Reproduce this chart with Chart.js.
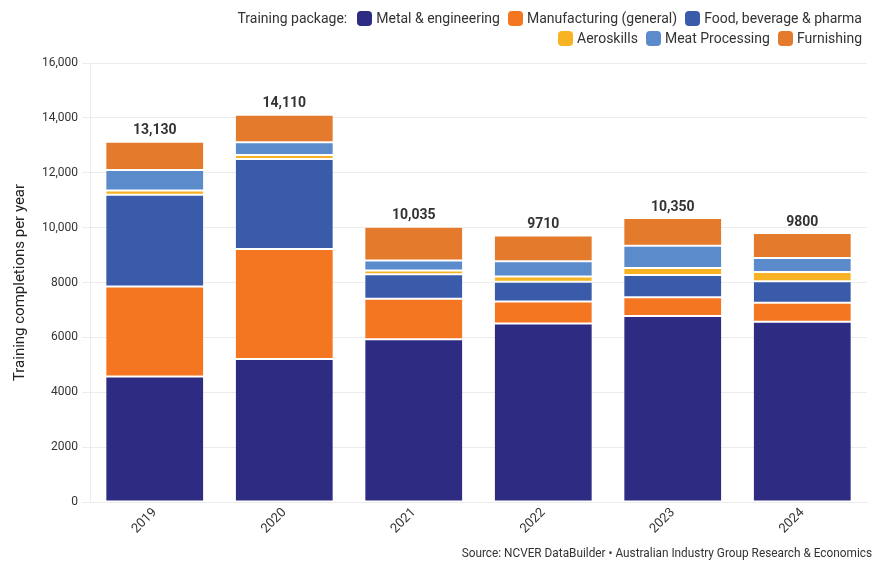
<!DOCTYPE html>
<html>
<head>
<meta charset="utf-8">
<script src="https://cdn.jsdelivr.net/npm/chart.js@4/dist/chart.umd.min.js"></script>
<style>
  html, body { margin: 0; padding: 0; background: #fff; }
  #wrap { position: relative; width: 876px; height: 563px; overflow: hidden; }
  #chart { position: absolute; left: 0; top: 0; }
  .narrow { font-family: "Roboto", sans-serif; color: #333; }
  #legend { position: absolute; right: 14px; top: 8px; font-size: 14px; line-height: 20px; text-align: right; }
  #legend .row { display: flex; justify-content: flex-end; align-items: center; }
  #legend .item { display: inline-flex; align-items: center; margin-left: 8px; }
  #legend .sw { width: 15px; height: 15px; border-radius: 4px; margin-right: 4px; display: inline-block; }
  #legend .ttl { margin-right: 2px; }
  #source { position: absolute; right: 4px; top: 544px; font-size: 13.5px; white-space: nowrap;
            transform: scaleX(0.875); transform-origin: right center; }
</style>
</head>
<body>
<div id="wrap">
  <canvas id="chart" width="876" height="563"></canvas>
  <div id="legend" class="narrow"></div>
  <div id="source" class="narrow">Source: NCVER DataBuilder • Australian Industry Group Research &amp; Economics</div>
</div>
<script>
// Training completions per year, by training package
const years = ["2019", "2020", "2021", "2022", "2023", "2024"];

const metalEngineering = [4570, 5210, 5930, 6510, 6780, 6570];
const manufacturingGeneral = [3280, 4010, 1480, 800, 680, 690];
const foodBeveragePharma = [3350, 3280, 890, 720, 810, 790];
const aeroskills = [150, 150, 140, 190, 260, 330];
const meatProcessing = [750, 460, 360, 550, 810, 510];
const furnishing = [1030, 1000, 1235, 940, 1010, 910];

const yTicks = [0, 2000, 4000, 6000, 8000, 10000, 12000, 14000, 16000];

const seriesNames = ["Metal & engineering", "Manufacturing (general)", "Food, beverage & pharma",
                     "Aeroskills", "Meat Processing", "Furnishing"];
const seriesData = [metalEngineering, manufacturingGeneral, foodBeveragePharma,
                    aeroskills, meatProcessing, furnishing];
const seriesColors = ["#2E2C82", "#F47621", "#3A5BA9", "#F8B325", "#5B8BCA", "#E47A2B"];

const FONT = '"Roboto", sans-serif';

function fmt(v) {
  return v >= 10000 ? v.toLocaleString("en-US") : String(v);
}

const totals = years.map((_, i) => seriesData.reduce((s, arr) => s + arr[i], 0));

// Legend: title followed by swatches, two right-aligned rows
(function buildLegend() {
  const el = document.getElementById("legend");
  const rows = [[0, 1, 2], [3, 4, 5]];
  rows.forEach((idxs, r) => {
    const row = document.createElement("div");
    row.className = "row";
    if (r === 0) {
      const t = document.createElement("span");
      t.className = "ttl";
      t.textContent = "Training package:";
      row.appendChild(t);
    }
    idxs.forEach(i => {
      const it = document.createElement("span");
      it.className = "item";
      const sw = document.createElement("span");
      sw.className = "sw";
      sw.style.background = seriesColors[i];
      it.appendChild(sw);
      it.appendChild(document.createTextNode(seriesNames[i]));
      row.appendChild(it);
    });
    el.appendChild(row);
  });
})();

// Total value printed above each stacked column
const totalLabels = {
  id: "totalLabels",
  afterDatasetsDraw(chart) {
    const { ctx, scales } = chart;
    const meta = chart.getDatasetMeta(0);
    ctx.save();
    ctx.font = "bold 14px " + FONT;
    ctx.fillStyle = "#333";
    ctx.textAlign = "center";
    ctx.textBaseline = "bottom";
    totals.forEach((t, i) => {
      const x = meta.data[i].x;
      const y = scales.y.getPixelForValue(t);
      ctx.fillText(fmt(t), x, y - 4);
    });
    ctx.restore();
  }
};

new Chart(document.getElementById("chart"), {
  type: "bar",
  data: {
    labels: years,
    datasets: seriesData.map((d, i) => ({
      label: seriesNames[i],
      data: d,
      backgroundColor: seriesColors[i],
      borderColor: "#ffffff",
      borderWidth: { top: 1, bottom: 1, left: 0, right: 0 },
      borderSkipped: false,
      barPercentage: 0.75,
      categoryPercentage: 1.0
    }))
  },
  options: {
    responsive: false,
    animation: false,
    events: [],
    layout: { padding: { top: 63, right: 9, left: 0, bottom: 0 } },
    plugins: {
      legend: { display: false },
      tooltip: { enabled: false }
    },
    scales: {
      x: {
        stacked: true,
        grid: { display: false, drawTicks: false },
        border: { display: true, color: "#ececec" },
        ticks: {
          color: "#333",
          font: { family: FONT, size: 13 },
          maxRotation: 45,
          minRotation: 45,
          padding: 3
        },
        afterFit(scale) { scale.height = 61; }
      },
      y: {
        stacked: true,
        min: 0,
        max: 16000,
        afterBuildTicks(scale) { scale.ticks = yTicks.map(v => ({ value: v })); },
        grid: { color: "#ececec", tickLength: 8, tickColor: "#ececec" },
        border: { display: true, color: "#ececec" },
        ticks: {
          color: "#333",
          font: { family: FONT, size: 12 },
          padding: 4,
          callback: v => fmt(v)
        },
        title: {
          display: true,
          text: "Training completions per year",
          color: "#222",
          font: { family: FONT, size: 15 },
          padding: { top: 11, bottom: 0 }
        },
        afterFit(scale) { scale.width = 90; }
      }
    }
  },
  plugins: [totalLabels]
});
</script>
</body>
</html>
